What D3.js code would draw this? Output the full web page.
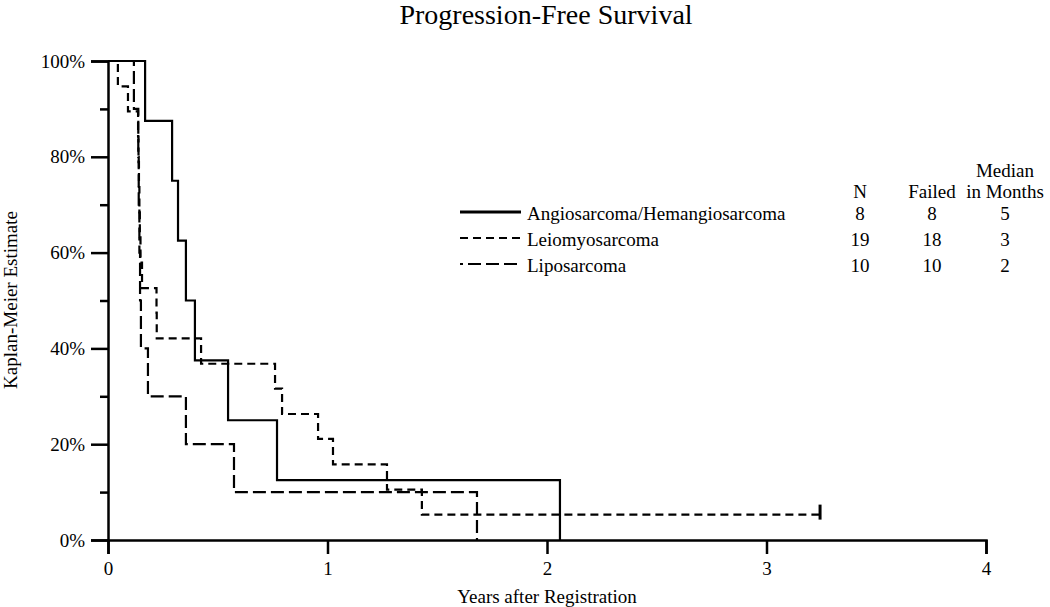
<!DOCTYPE html>
<html>
<head>
<meta charset="utf-8">
<script src="https://cdn.jsdelivr.net/npm/d3@7"></script>
<style>
  html, body { margin: 0; padding: 0; background: #fff; }
  text { font-family: "Liberation Serif", "Times New Roman", serif; fill: #000; }
</style>
</head>
<body>
<svg id="chart" width="1050" height="607"></svg>
<script>
// ---- Data (years after registration, % progression-free) ----
const seriesNames = ["Angiosarcoma/Hemangiosarcoma", "Leiomyosarcoma", "Liposarcoma"];
const angioTimes = [0, 0.169, 0.292, 0.319, 0.355, 0.396, 0.547, 0.770, 2.059];
const angioSurv  = [100, 87.5, 75, 62.5, 50, 37.5, 25, 12.5, 0];
const leioTimes  = [0, 0.045, 0.091, 0.137, 0.139, 0.141, 0.143, 0.145, 0.148, 0.155, 0.221, 0.222, 0.424, 0.761, 0.793, 0.957, 1.025, 1.271, 1.430, 3.244];
const leioSurv   = [100, 94.7, 89.5, 84.2, 78.9, 73.7, 68.4, 63.2, 57.9, 52.6, 47.4, 42.1, 36.8, 31.6, 26.3, 21.1, 15.8, 10.5, 5.3, 5.3];
const leioCensor = [3.244];
const lipoTimes  = [0, 0.118, 0.138, 0.140, 0.143, 0.146, 0.150, 0.182, 0.355, 0.574, 1.681];
const lipoSurv   = [100, 90, 80, 70, 60, 50, 40, 30, 20, 10, 0];
const tableN      = ["8", "19", "10"];
const tableFailed = ["8", "18", "10"];
const tableMedian = ["5", "3", "2"];
const xTicks = [0, 1, 2, 3, 4];
const yMajorTicks = [0, 20, 40, 60, 80, 100];
const yMinorTicks = [10, 30, 50, 70, 90];

const svg = d3.select("#chart");
const x = d3.scaleLinear().domain([0, 4]).range([108, 986]);
const y = d3.scaleLinear().domain([0, 100]).range([540, 61]);

// Title
svg.append("text").attr("x", 546).attr("y", 24).attr("text-anchor", "middle")
  .style("font-size", "28px").text("Progression-Free Survival");

// Axes
const xAxis = d3.axisBottom(x).tickValues(xTicks).tickFormat(d3.format("d")).tickSize(14).tickPadding(8);
const gx = svg.append("g").attr("transform", "translate(0,540)").call(xAxis);
gx.select(".domain").attr("stroke", "#000").attr("stroke-width", 2.5);
gx.selectAll(".tick line").attr("stroke-width", 2.5);
gx.selectAll(".tick text").style("font-size", "19px").style("font-family", "Liberation Serif");

const yAxis = d3.axisLeft(y).tickValues(yMajorTicks).tickFormat(d => d + "%").tickSize(17).tickPadding(6);
const gy = svg.append("g").attr("transform", "translate(108,0)").call(yAxis);
gy.select(".domain").attr("stroke", "#000").attr("stroke-width", 2.5);
gy.selectAll(".tick line").attr("stroke-width", 2.5);
gy.selectAll(".tick text").style("font-size", "19px").style("font-family", "Liberation Serif");

const yMinor = d3.axisLeft(y).tickValues(yMinorTicks).tickFormat("").tickSize(8);
const gym = svg.append("g").attr("transform", "translate(108,0)").call(yMinor);
gym.select(".domain").remove();
gym.selectAll(".tick line").attr("stroke-width", 2.5);

// Axis labels
svg.append("text").attr("x", 547).attr("y", 603).attr("text-anchor", "middle")
  .style("font-size", "19px").text("Years after Registration");
svg.append("text").attr("transform", "translate(17,300) rotate(-90)").attr("text-anchor", "middle")
  .style("font-size", "19px").text("Kaplan-Meier Estimate");

// Curves
const line = d3.line().x(d => x(d[0])).y(d => y(d[1])).curve(d3.curveStepAfter);
const styles = [
  { dash: null, width: 2.2 },
  { dash: "8,5", width: 2.2 },
  { dash: "13,5", width: 2.2 }
];
const curves = [
  d3.zip(angioTimes, angioSurv),
  d3.zip(leioTimes, leioSurv),
  d3.zip(lipoTimes, lipoSurv)
];
curves.forEach((pts, i) => {
  svg.append("path").datum(pts).attr("d", line)
    .attr("fill", "none").attr("stroke", "#000")
    .attr("stroke-width", styles[i].width)
    .attr("stroke-dasharray", styles[i].dash);
});
// censor mark
svg.selectAll(".censor").data(leioCensor).enter().append("line")
  .attr("x1", d => x(d)).attr("x2", d => x(d))
  .attr("y1", y(leioSurv[leioSurv.length - 1]) - 10)
  .attr("y2", y(leioSurv[leioSurv.length - 1]) + 5)
  .attr("stroke", "#000").attr("stroke-width", 3);

// Legend / table
const rowY = [213, 239, 265];
const legend = svg.append("g");
seriesNames.forEach((name, i) => {
  legend.append("line").attr("x1", 460).attr("x2", 521).attr("y1", rowY[i] - 1).attr("y2", rowY[i] - 1)
    .attr("stroke", "#000").attr("stroke-width", i === 0 ? 3 : 2.2)
    .attr("stroke-dasharray", styles[i].dash)
    .attr("stroke-dashoffset", i === 2 ? 10 : 0);
  legend.append("text").attr("x", 527).attr("y", rowY[i]).attr("dy", "0.35em")
    .style("font-size", "19px").text(name);
  legend.append("text").attr("x", 860).attr("y", rowY[i]).attr("dy", "0.35em").attr("text-anchor", "middle")
    .style("font-size", "19px").text(tableN[i]);
  legend.append("text").attr("x", 932).attr("y", rowY[i]).attr("dy", "0.35em").attr("text-anchor", "middle")
    .style("font-size", "19px").text(tableFailed[i]);
  legend.append("text").attr("x", 1005).attr("y", rowY[i]).attr("dy", "0.35em").attr("text-anchor", "middle")
    .style("font-size", "19px").text(tableMedian[i]);
});
const headers = [
  { x: 860, y: 191, t: "N" },
  { x: 932, y: 191, t: "Failed" },
  { x: 1005, y: 170, t: "Median" },
  { x: 1005, y: 191, t: "in Months" }
];
headers.forEach(h => {
  legend.append("text").attr("x", h.x).attr("y", h.y).attr("dy", "0.35em").attr("text-anchor", "middle")
    .style("font-size", "19px").text(h.t);
});
</script>
</body>
</html>
